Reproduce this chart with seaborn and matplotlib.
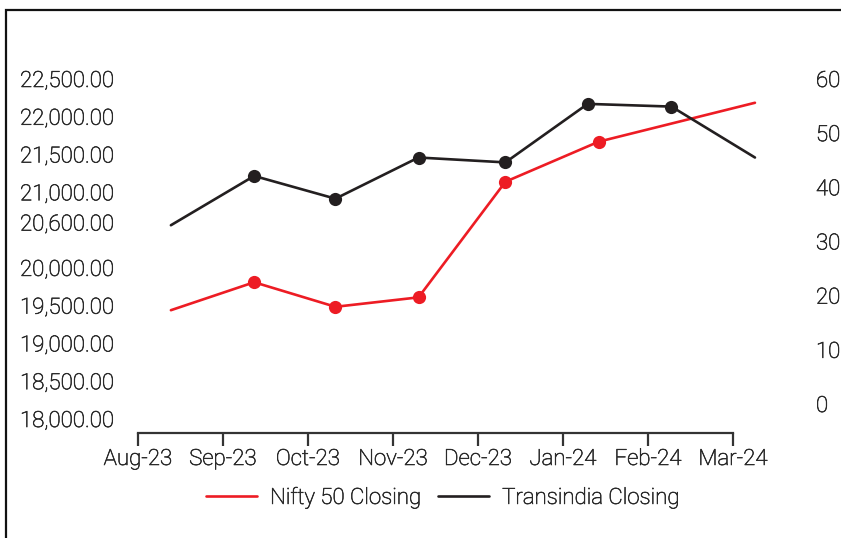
import calendar
import matplotlib
matplotlib.use("Agg")
import matplotlib.pyplot as plt
import matplotlib.patheffects as pe
from matplotlib.lines import Line2D
from matplotlib.patches import Rectangle
import pandas as pd
import seaborn as sns

# Monthly axis labels
months = ["Aug-23", "Sep-23", "Oct-23", "Nov-23", "Dec-23", "Jan-24", "Feb-24", "Mar-24"]

# Nifty 50 closing (left axis)
nifty_dates = ["2023-08-13", "2023-09-12", "2023-10-11", "2023-11-10",
               "2023-12-11", "2024-01-14", "2024-03-09"]
nifty_close = [19440, 19810, 19485, 19610, 21140, 21670, 22185]

# Transindia closing (right axis)
trans_dates = ["2023-08-13", "2023-09-12", "2023-10-11", "2023-11-10",
               "2023-12-11", "2024-01-10", "2024-02-09", "2024-03-09"]
trans_close = [33.0, 42.1, 37.9, 45.5, 44.6, 55.4, 54.9, 45.5]

# Axis tick labels
left_ticks = [18000, 18500, 19000, 19500, 20000, 20600, 21000, 21500, 22000, 22500]
right_ticks = [0, 10, 20, 30, 40, 50, 60]

RED = "#ED1C24"
BLACK = "#231F20"
TEXT = "#2a2a2a"
FS = 16
TEXT_FX = [pe.withStroke(linewidth=0.45, foreground=TEXT)]


def month_position(date_str, start="2023-08-01"):
    """Position in months from the first month, fractional within a month."""
    d = pd.Timestamp(date_str)
    s = pd.Timestamp(start)
    idx = (d.year - s.year) * 12 + (d.month - s.month)
    dim = calendar.monthrange(d.year, d.month)[1]
    return idx + (d.day - 1) / dim


nifty = pd.DataFrame({"x": [month_position(d) for d in nifty_dates], "close": nifty_close})
trans = pd.DataFrame({"x": [month_position(d) for d in trans_dates], "close": trans_close})

sns.set_theme(style="white")
plt.rcParams["font.family"] = ["Roboto", "DejaVu Sans"]
plt.rcParams["font.weight"] = "light"

W, H = 841, 538
fig = plt.figure(figsize=(W / 100, H / 100), dpi=100)
ax = fig.add_axes([120 / W, 105 / H, 680 / W, 373 / H])
ax2 = ax.twinx()

sns.lineplot(data=nifty, x="x", y="close", ax=ax, color=RED, linewidth=1.9,
             marker="o", markersize=9.5, markeredgewidth=0, markerfacecolor=RED,
             markevery=[1, 2, 3, 4, 5], legend=False)
sns.lineplot(data=trans, x="x", y="close", ax=ax2, color=BLACK, linewidth=1.9,
             marker="o", markersize=9.5, markeredgewidth=0, markerfacecolor=BLACK,
             markevery=[1, 2, 3, 4, 5, 6], legend=False)

ax.set_xlim(-0.2118, 7.788)
ax.set_ylim(17815, 22751)
ax2.set_ylim(-5.35, 63.5)

for a in (ax, ax2):
    for s in a.spines.values():
        s.set_visible(False)
    a.set_xlabel("")
    a.set_ylabel("")
    a.grid(False)

ax.spines["bottom"].set_visible(True)
ax.spines["bottom"].set_bounds(0, 7)
ax.spines["bottom"].set_color("#333333")
ax.spines["bottom"].set_linewidth(1.6)

ax.set_xticks(range(len(months)))
ax.set_xticklabels(months)
ax.tick_params(axis="x", bottom=True, direction="out", length=9.5, width=1.6,
               color="#333333", pad=2, labelsize=FS, labelcolor=TEXT)

ax.set_yticks(left_ticks)
ax.set_yticklabels([f"{v:,.2f}" for v in left_ticks])
ax.tick_params(axis="y", left=False, length=0, pad=72, labelsize=FS, labelcolor=TEXT)
for lab in ax.get_yticklabels():
    lab.set_horizontalalignment("left")

ax2.set_yticks(right_ticks)
ax2.set_yticklabels([str(v) for v in right_ticks])
ax2.tick_params(axis="y", right=False, length=0, pad=11.5, labelsize=FS, labelcolor=TEXT)

handles = [Line2D([], [], color=RED, linewidth=1.9),
           Line2D([], [], color=BLACK, linewidth=1.9)]
labels = ["Nifty 50 Closing", "Transindia Closing"]
leg = fig.legend(handles, labels, loc="center", bbox_to_anchor=(443 / W, 1 - 498 / H),
                 ncol=2, frameon=False, fontsize=FS, handlelength=2.3,
                 handletextpad=0.6, columnspacing=0.72)
for t in leg.get_texts():
    t.set_color(TEXT)
    t.set_path_effects(TEXT_FX)

for lab in ax.get_xticklabels() + ax.get_yticklabels() + ax2.get_yticklabels():
    lab.set_path_effects(TEXT_FX)

# Page frame around the chart
fig.patches.append(Rectangle((6 / W, -0.1), 1.2, 1.1 - 10 / H,
                             transform=fig.transFigure, fill=False,
                             edgecolor="#111111", linewidth=1.6, zorder=10))

fig.savefig("out.png", dpi=100)
